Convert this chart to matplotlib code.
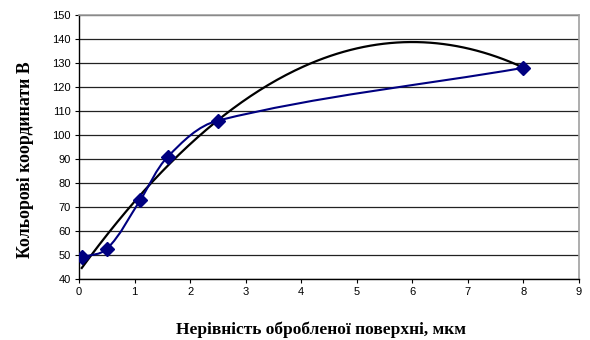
import matplotlib
matplotlib.use("Agg")
import matplotlib.pyplot as plt
import numpy as np
from matplotlib.path import Path
from matplotlib.patches import PathPatch

# Data
x_vals = [0.05, 0.5, 1.1, 1.6, 2.5, 8.0]
y_vals = [49, 52.5, 72.8, 91, 106, 128]
x_ticks = list(range(0, 10))
y_ticks = list(range(40, 151, 10))

NAVY = "#000080"

plt.rcParams.update({"font.family": "Liberation Sans", "font.size": 8})

fig = plt.figure(figsize=(5.9, 3.4), dpi=100)
ax = fig.add_axes([79 / 590, 61 / 340, 500 / 590, 264 / 340])
ax.set_xlim(0, 9)
ax.set_ylim(40, 150)


def smooth_path(xs, ys):
    # Excel-style smoothed line, built in display space so the bends look even
    pts = ax.transData.transform(np.column_stack([xs, ys]))
    verts = [pts[0]]
    codes = [Path.MOVETO]
    n = len(pts)
    for i in range(n - 1):
        p0 = pts[i - 1] if i > 0 else pts[i]
        p1 = pts[i]
        p2 = pts[i + 1]
        p3 = pts[i + 2] if i + 2 < n else pts[i + 1]
        seg = np.linalg.norm(p2 - p1)
        t1 = p2 - p0
        t2 = p3 - p1
        t1 = t1 / (np.linalg.norm(t1) or 1)
        t2 = t2 / (np.linalg.norm(t2) or 1)
        c1 = p1 + t1 * seg / 3
        c2 = p2 - t2 * seg / 3
        verts += [c1, c2, p2]
        codes += [Path.CURVE4] * 3
    verts = ax.transData.inverted().transform(np.array(verts))
    return Path(verts, codes)


# grid
ax.set_axisbelow(True)
ax.yaxis.grid(True, color="#222222", linewidth=0.9)

# polynomial trendline
coef = np.polyfit(x_vals, y_vals, 2)
tx = np.linspace(min(x_vals), max(x_vals), 200)
ax.plot(tx, np.polyval(coef, tx), color="black", linewidth=1.6, zorder=3)

ax.add_patch(PathPatch(smooth_path(x_vals, y_vals), facecolor="none",
                       edgecolor=NAVY, linewidth=1.5, zorder=4))
ax.plot(x_vals, y_vals, linestyle="none", marker="D", markersize=6.8,
        color=NAVY, zorder=5)

ax.set_xticks(x_ticks)
ax.set_yticks(y_ticks)
ax.tick_params(direction="out", length=3, width=0.8, pad=3)
for s in ("left", "bottom"):
    ax.spines[s].set_color("black")
    ax.spines[s].set_linewidth(1.0)
for s in ("top", "right"):
    ax.spines[s].set_color("#a0a0a0")
    ax.spines[s].set_linewidth(1.2)

fig.text(321 / 590, 1 - 330 / 340, "Нерівність обробленої поверхні, мкм",
         ha="center", va="center", family="Liberation Serif",
         fontweight="bold", fontsize=12.5)
fig.text(26 / 590, 1 - 160 / 340, "Кольорові координати В", rotation=90,
         ha="center", va="center", family="Liberation Serif",
         fontweight="bold", fontsize=12.8)

fig.savefig("out.png", dpi=100)
